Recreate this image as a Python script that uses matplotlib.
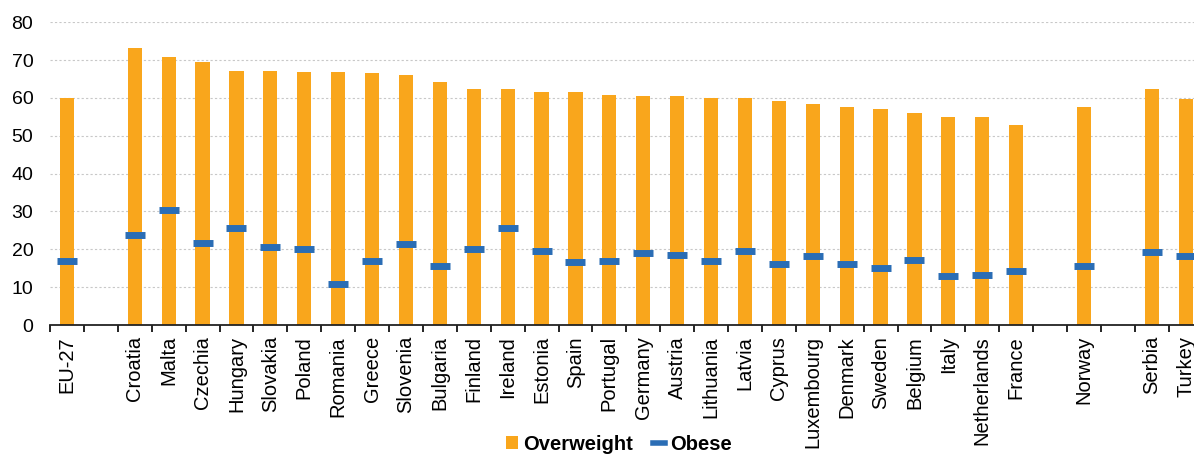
import numpy as np
import matplotlib.pyplot as plt
from matplotlib.patches import Patch
from matplotlib.lines import Line2D

plt.rcParams['font.family'] = ['Liberation Sans', 'DejaVu Sans']

# Country groups (a blank slot separates each group on the axis)
group_sizes = [1, 27, 1, 2]
countries = ["EU-27",
             "Croatia", "Malta", "Czechia", "Hungary", "Slovakia", "Poland", "Romania",
             "Greece", "Slovenia", "Bulgaria", "Finland", "Ireland", "Estonia", "Spain",
             "Portugal", "Germany", "Austria", "Lithuania", "Latvia", "Cyprus",
             "Luxembourg", "Denmark", "Sweden", "Belgium", "Italy", "Netherlands", "France",
             "Norway",
             "Serbia", "Turkey"]
overweight = [60.0,
              73.1, 70.9, 69.6, 67.2, 67.2, 66.9, 66.9, 66.6, 66.1, 64.2, 62.5, 62.3,
              61.6, 61.6, 60.7, 60.5, 60.5, 60.1, 59.9, 59.2, 58.3, 57.7, 57.1, 55.9,
              55.1, 54.9, 52.8,
              57.5,
              62.5, 59.7]
obese = [16.8,
         23.7, 30.5, 21.8, 25.6, 20.7, 20.1, 10.9, 16.8, 21.3, 15.5, 20.1, 25.6,
         19.6, 16.6, 17.0, 18.9, 18.5, 17.0, 19.6, 16.1, 18.3, 16.1, 15.1, 17.3,
         12.9, 13.1, 14.2,
         15.5,
         19.4, 18.3]

orange = "#f9a61c"
blue = "#2a6db5"

# x positions with one empty slot between groups
pos = []
start = 0
for n in group_sizes:
    pos.extend(range(start, start + n))
    start += n + 1
pos = np.array(pos)
n_slots = start - 1

fig = plt.figure(figsize=(11.94, 4.59), dpi=100)
ax = fig.add_axes([50 / 1194, 134 / 459, 1 - 50 / 1194, 302.7 / 459])

ax.bar(pos, overweight, width=0.42, color=orange, zorder=2)
ax.plot(pos, obese, linestyle="none", marker="_", markersize=15, mew=5,
        color=blue, zorder=3)

ax.set_yticks(np.arange(0, 81, 10))
ax.yaxis.grid(True, color="#c8c8c8", linestyle=(0, (2, 2)), linewidth=0.8, zorder=0)
ax.tick_params(axis="y", length=0, labelsize=14, pad=12)

ax.set_xticks(pos)
ax.set_xticklabels(countries, rotation=90, fontsize=14.5)
ax.set_xticks(np.arange(-0.5, n_slots + 0.5, 1), minor=True)
ax.tick_params(axis="x", which="major", length=0, pad=8)
ax.tick_params(axis="x", which="minor", length=5, width=1.2, direction="out")

# the last column runs off the right edge of the figure
ax.set_ylim(0, 80)
ax.set_xlim(-0.5, (1194 - 50) / 33.9 - 0.5)

for side in ["left", "right", "top"]:
    ax.spines[side].set_visible(False)
ax.spines["bottom"].set_linewidth(1.3)
ax.spines["bottom"].set_color("#222222")

handles = [Patch(facecolor=orange, edgecolor="none"),
           Line2D([], [], color=blue, linewidth=4)]
fig.legend(handles, ["Overweight", "Obese"], loc="lower center",
           bbox_to_anchor=(0.518, -0.028), ncol=2, frameon=False,
           prop={"weight": "bold", "size": 14.5}, handlelength=0.6,
           handleheight=0.6, handletextpad=0.25, columnspacing=1.0)

fig.savefig("out.png", dpi=100)
